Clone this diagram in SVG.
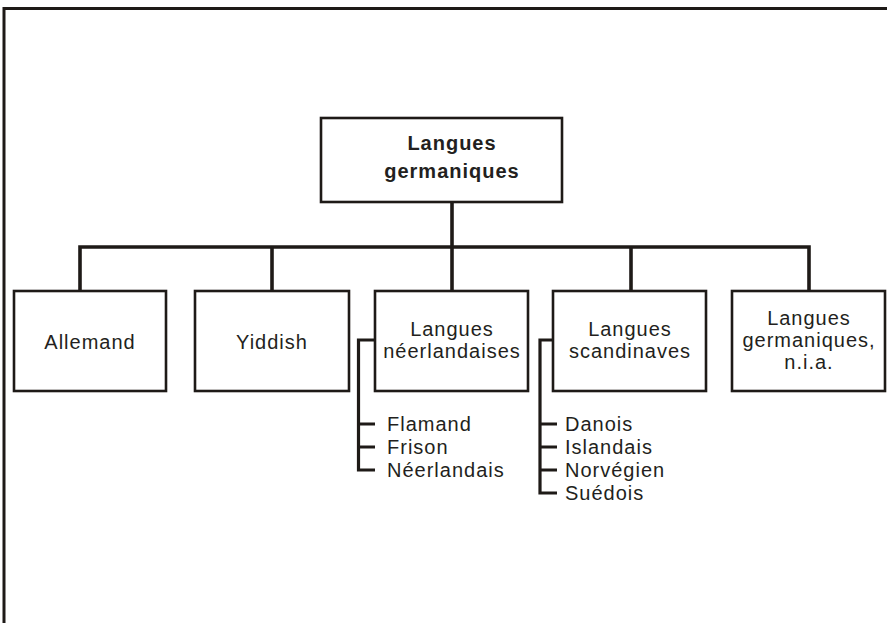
<svg xmlns="http://www.w3.org/2000/svg" width="887" height="623" viewBox="0 0 887 623">
  <style>
    .frame { fill: none; stroke: #1e1a17; stroke-width: 3; }
    .box { fill: #ffffff; stroke: #1e1a17; stroke-width: 2.6; }
    .link { fill: none; stroke: #1e1a17; stroke-width: 3.6; stroke-linecap: butt; stroke-linejoin: miter; }
    .brace { fill: none; stroke: #1e1a17; stroke-width: 3.2; stroke-linejoin: miter; }
    text { font-family: "Liberation Sans", Arial, sans-serif; font-size: 20px; letter-spacing: 1px; fill: #231f20; }
    .c { text-anchor: middle; }
    .b { font-weight: bold; }
  </style>
  <rect width="887" height="623" fill="#ffffff"/>
  <!-- page frame: top and left rules -->
  <path class="frame" d="M4,623 V8.5 H887"/>

  <!-- connectors -->
  <g id="connectors">
    <path class="link" d="M452,202 V247"/>
    <path class="link" d="M80,291 V247 H809 V291"/>
    <path class="link" d="M272,247 V291"/>
    <path class="link" d="M452,247 V291"/>
    <path class="link" d="M631,247 V291"/>
    <!-- sub-list brackets -->
    <path class="brace" d="M375,340 H358.5 V470 H375 M358.5,424 H375 M358.5,447 H375"/>
    <path class="brace" d="M553,340 H540 V493 H557 M540,424 H557 M540,447 H557 M540,470 H557"/>
  </g>

  <g id="root">
    <rect class="box" x="321" y="118" width="241" height="84"/>
    <text class="c b" x="452" y="150">Langues</text>
    <text class="c b" x="452" y="178">germaniques</text>
  </g>

  <g id="allemand">
    <rect class="box" x="14" y="291" width="152" height="100"/>
    <text class="c" x="90" y="349">Allemand</text>
  </g>

  <g id="yiddish">
    <rect class="box" x="195" y="291" width="154" height="100"/>
    <text class="c" x="272" y="349">Yiddish</text>
  </g>

  <g id="neerlandaises">
    <rect class="box" x="375" y="291" width="153" height="100"/>
    <text class="c" x="452" y="336">Langues</text>
    <text class="c" x="452" y="358">néerlandaises</text>
    <text x="387" y="431">Flamand</text>
    <text x="387" y="454">Frison</text>
    <text x="387" y="477">Néerlandais</text>
  </g>

  <g id="scandinaves">
    <rect class="box" x="553" y="291" width="153" height="100"/>
    <text class="c" x="630" y="336">Langues</text>
    <text class="c" x="630" y="358">scandinaves</text>
    <text x="565" y="431">Danois</text>
    <text x="565" y="454">Islandais</text>
    <text x="565" y="477">Norvégien</text>
    <text x="565" y="500">Suédois</text>
  </g>

  <g id="germaniques-nia">
    <rect class="box" x="732" y="291" width="153" height="100"/>
    <text class="c" x="809" y="325">Langues</text>
    <text class="c" x="809" y="347">germaniques,</text>
    <text class="c" x="809" y="369">n.i.a.</text>
  </g>
</svg>
